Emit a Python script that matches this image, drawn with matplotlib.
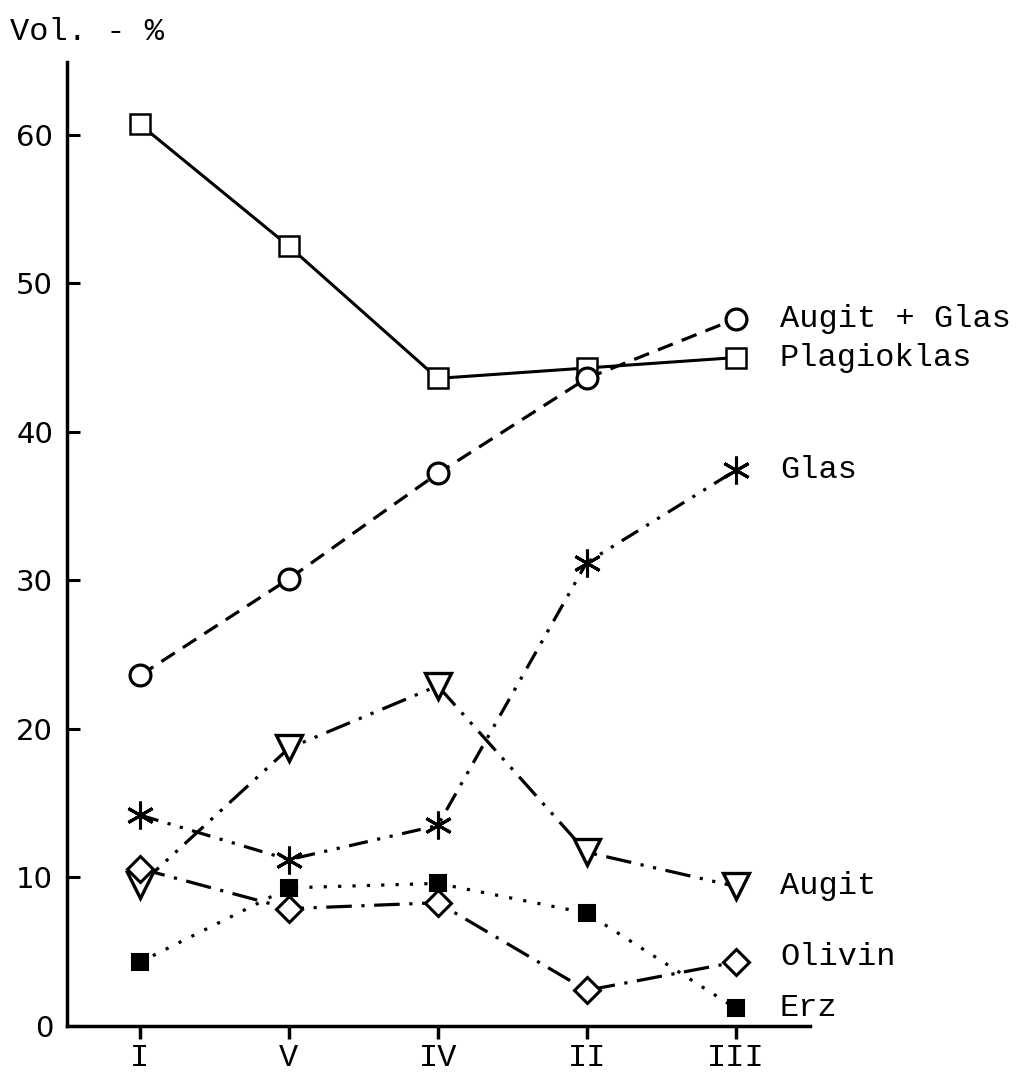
import matplotlib.pyplot as plt

# Proben (x-Achse) und Volumenanteile
proben = ['I', 'V', 'IV', 'II', 'III']

plagioklas = [60.7, 52.5, 43.6, 44.3, 45.0]
augit_glas = [23.6, 30.1, 37.2, 43.6, 47.6]
glas = [14.2, 11.2, 13.5, 31.2, 37.4]
augit = [9.5, 18.7, 22.9, 11.7, 9.4]
olivin = [10.6, 7.9, 8.3, 2.4, 4.3]
erz = [4.3, 9.3, 9.6, 7.6, 1.2]

MONO = 'Liberation Mono'

fig = plt.figure(figsize=(10.19, 10.76), dpi=100)
ax = fig.add_axes([67 / 1019, 50 / 1076, 743 / 1019, 964 / 1076])

x = range(len(proben))
lw = 2.3

ax.plot(x, plagioklas, color='black', lw=2.2, ls='-', marker='s',
        ms=14, mfc='white', mew=1.8)
ax.plot(x, augit_glas, color='black', lw=lw, ls=(0, (5, 3)), marker='o',
        ms=15, mfc='white', mew=2.3)
ax.plot(x, glas, color='black', lw=lw, ls=(0, (6, 3, 1, 3, 1, 3)), marker=(6, 2, 0),
        ms=20, mew=2.2)
ax.plot(x, augit, color='black', lw=lw, ls=(0, (8, 3, 1, 3, 1, 3)), marker='v',
        ms=19, mfc='white', mew=2.4)
ax.plot(x, olivin, color='black', lw=lw, ls=(0, (8, 3, 1, 3)), marker='D',
        ms=13, mfc='white', mew=2.2)
ax.plot(x, erz, color='black', lw=lw, ls=(0, (1, 3.5)), marker='s',
        ms=12, mfc='black', mew=1.5)

# Beschriftung rechts neben den Endpunkten
namen = ['Augit + Glas', 'Plagioklas', 'Glas', 'Augit', 'Olivin', 'Erz']
reihen = [augit_glas, plagioklas, glas, augit, olivin, erz]
dy = [0, 0, 0, 0, 4, 0]
for name, werte, d in zip(namen, reihen, dy):
    ax.annotate(name, (len(proben) - 1, werte[-1]), xytext=(32, d),
                textcoords='offset points', va='center', ha='left',
                fontsize=23, family=MONO, annotation_clip=False)

ax.set_xlim(-0.49, 4.5)
ax.set_ylim(0, 64.9)
ax.set_xticks(list(x))
ax.set_xticklabels(proben, family=MONO, fontsize=23)
ax.set_yticks([0, 10, 20, 30, 40, 50, 60])
ax.set_yticklabels(['0', '10', '20', '30', '40', '50', '60'], fontsize=21)

ax.spines['top'].set_visible(False)
ax.spines['right'].set_visible(False)
ax.spines['left'].set_linewidth(2.5)
ax.spines['bottom'].set_linewidth(2.5)
ax.tick_params(axis='y', direction='in', length=9, width=2.2, pad=10)
ax.tick_params(axis='x', direction='out', length=9, width=2.5, pad=3)

fig.text(10 / 1019, 1 - 32 / 1076, 'Vol. - %', family=MONO, fontsize=23,
         va='center', ha='left')

fig.savefig('out.png', dpi=100, facecolor='white')
